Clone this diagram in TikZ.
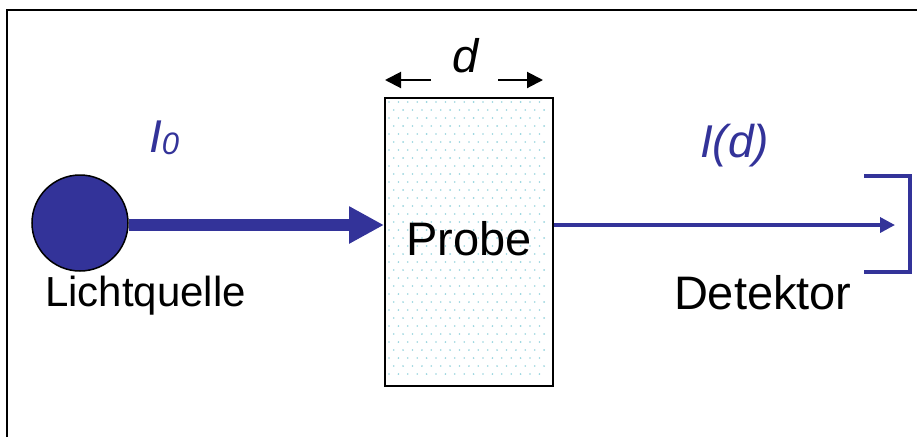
\documentclass[tikz,border=0pt]{standalone}
\usepackage{fontspec}
\setmainfont{Liberation Sans}
\usetikzlibrary{arrows.meta}
\definecolor{beamblue}{RGB}{51,51,153}
\definecolor{dotcol}{RGB}{150,212,222}
\begin{document}
\begin{tikzpicture}[x=1pt,y=-1pt,
  lbl/.style={inner sep=0pt, outer sep=0pt},
  big/.style={font=\fontsize{47}{50}\selectfont},
  mid/.style={font=\fontsize{42}{44}\selectfont},
  beam/.style={beamblue}]
\useasboundingbox (0,0) rectangle (917,437);
% frame
\draw[line width=2.5pt] (7,437) -- (7,10) -- (917,10);
% sample
\node[draw, line width=2pt, fill=white, minimum width=168pt, minimum height=288pt,
      inner sep=0pt, anchor=north west] (probe) at (384,97) {};
\foreach \r in {0,...,34}{
  \foreach \c in {0,...,16}{
    \fill[dotcol] ({389 + \c*9.4 + mod(\r,2)*4.7}, {102 + \r*8}) circle (0.9pt);
  }
}
\node[lbl, big, anchor=base] (probetext) at (469,255) {Probe};
% source
\node[circle, draw=black, line width=1.5pt, fill=beamblue, minimum size=96pt, inner sep=0pt] (src) at (80,223) {};
\draw[beam, line width=12pt, -{Triangle[length=35pt,width=35pt]}] (src.east) ++(0,2) -- (probe.west |- 0,225);
\node[lbl, mid, anchor=base west] (srclbl) at (45,306) {Lichtquelle};
% transmitted beam
\coordinate (det) at (895,225);
\draw[beam, line width=3.5pt, -{Triangle[length=15pt,width=15pt]}] (probe.east |- det) -- (det);
% detector bracket
\draw[beam, line width=4.5pt] (864,176) -- (910,176) -- (910,272) -- (864,272);
\node[lbl, big, anchor=base west] (detlbl) at (674,309) {Detektor};
% labels
\node[lbl, anchor=base west, text=beamblue, font=\fontsize{46}{48}\selectfont] (i0) at (149,152)
  {\textit{I}\raisebox{-2pt}{\fontsize{31}{33}\selectfont\textit{0}}};
\node[lbl, anchor=base west, text=beamblue, font=\fontsize{46}{48}\selectfont] (id) at (700,157)
  {\textit{I(d)}};
% thickness d
\node[lbl, anchor=base, font=\fontsize{47}{50}\selectfont] (dlbl) at (466,72) {\textit{d}};
\coordinate (dl0) at (431,80);
\coordinate (dl1) at (385,80);
\coordinate (dr0) at (498,80);
\coordinate (dr1) at (543,80);
\draw[line width=2pt, -{Triangle[length=16pt,width=16pt]}] (dl0) -- (dl1);
\draw[line width=2pt, -{Triangle[length=16pt,width=16pt]}] (dr0) -- (dr1);
\end{tikzpicture}
\end{document}
